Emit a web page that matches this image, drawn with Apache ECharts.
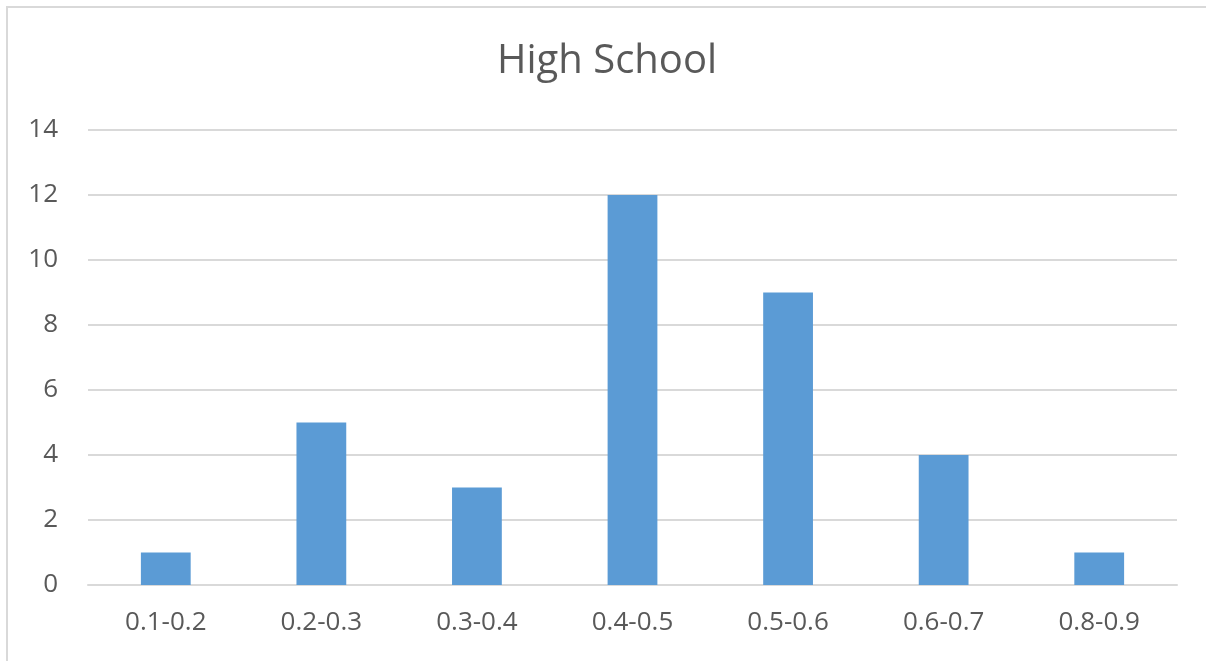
<!DOCTYPE html>
<html>
<head>
<meta charset="utf-8">
<script src="https://cdn.jsdelivr.net/npm/echarts@6/dist/echarts.min.js"></script>
<style>
  html, body { margin: 0; padding: 0; background: #ffffff; }
  #chart { width: 1206px; height: 661px; }
</style>
</head>
<body>
<div id="chart"></div>
<script>
// Score ranges and how many high schools fall in each
const categories = ['0.1-0.2', '0.2-0.3', '0.3-0.4', '0.4-0.5', '0.5-0.6', '0.6-0.7', '0.8-0.9'];
const counts = [1, 5, 3, 12, 9, 4, 1];
const yTicks = [0, 2, 4, 6, 8, 10, 12, 14];

const textColor = '#595959';
const gridColor = '#d9d9d9';
const fontFamily = '"Open Sans", "Liberation Sans", sans-serif';

const chart = echarts.init(document.getElementById('chart'), null, { renderer: 'canvas' });

chart.setOption({
  backgroundColor: '#ffffff',
  animation: false,
  graphic: [{
    type: 'rect',
    silent: true,
    shape: { x: 7, y: 7, width: 1400, height: 800 },
    style: { fill: 'none', stroke: gridColor, lineWidth: 2 }
  }],
  title: {
    text: 'High School',
    left: 497,
    top: 42,
    padding: 0,
    textStyle: {
      fontFamily: fontFamily,
      fontSize: 40,
      fontWeight: 'normal',
      color: textColor
    }
  },
  grid: { left: 88, right: 29, top: 130, bottom: 76, containLabel: false },
  xAxis: {
    type: 'category',
    data: categories,
    axisTick: { show: false },
    axisLine: { show: true, lineStyle: { color: gridColor, width: 2 } },
    axisLabel: {
      margin: 25,
      fontFamily: fontFamily,
      fontSize: 26,
      color: textColor
    }
  },
  yAxis: {
    type: 'value',
    min: yTicks[0],
    max: yTicks[yTicks.length - 1],
    interval: yTicks[1] - yTicks[0],
    axisLine: { show: false },
    axisTick: { show: false },
    splitLine: { lineStyle: { color: gridColor, width: 2 } },
    axisLabel: {
      margin: 30,
      fontFamily: fontFamily,
      fontSize: 26,
      color: textColor
    }
  },
  series: [{
    type: 'bar',
    data: counts,
    barCategoryGap: '68%',
    itemStyle: { color: '#5b9bd5' }
  }]
});
</script>
</body>
</html>
